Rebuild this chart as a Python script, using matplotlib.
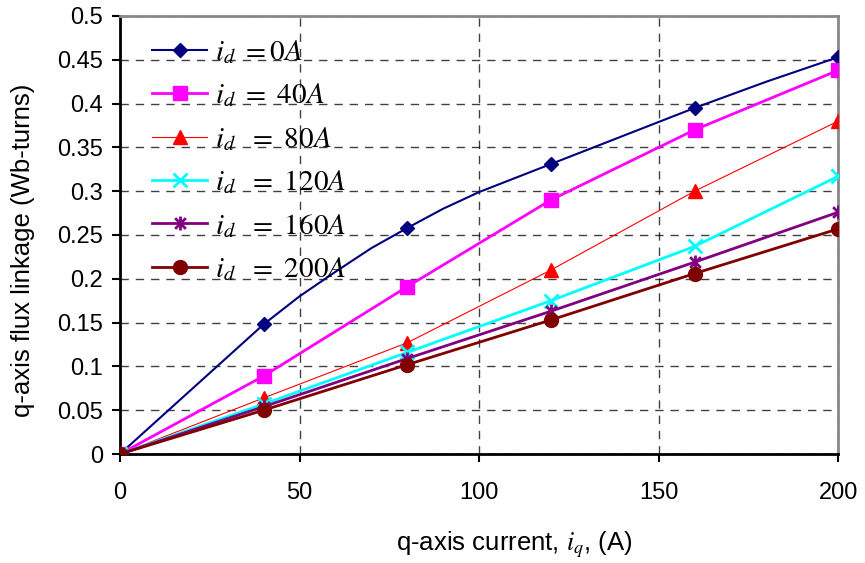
import matplotlib
matplotlib.use("Agg")
import matplotlib.pyplot as plt
from matplotlib.path import Path
import numpy as np

plt.rcParams['font.family'] = ['Liberation Sans', 'DejaVu Sans']
plt.rcParams['mathtext.fontset'] = 'stix'

iq_points = [0, 40, 80, 120, 160, 200]

# id = 0A curve has intermediate (unmarked) points
iq_id0 = [0, 40, 50, 60, 70, 80, 90, 100, 120, 160, 180, 200]
psi_id0 = [0, 0.148, 0.180, 0.208, 0.235, 0.258, 0.280, 0.299, 0.331, 0.395, 0.425, 0.453]
psi_id40 = [0, 0.089, 0.191, 0.290, 0.370, 0.438]
psi_id80 = [0, 0.064, 0.127, 0.210, 0.300, 0.380]
psi_id120 = [0, 0.057, 0.116, 0.175, 0.237, 0.317]
psi_id160 = [0, 0.054, 0.109, 0.163, 0.219, 0.276]
psi_id200 = [0, 0.050, 0.102, 0.153, 0.206, 0.257]

labels = [r'$i_d\ =\mathit{0A}$', r'$i_d\ =\ \mathit{40A}$', r'$i_d\ \ =\ \mathit{80A}$',
          r'$i_d\ \ =\ \mathit{120A}$', r'$i_d\ \ =\ \mathit{160A}$', r'$i_d\ \ =\ \mathit{200A}$']

x_ticks = [0, 50, 100, 150, 200]
y_ticks = [0, 0.05, 0.1, 0.15, 0.2, 0.25, 0.3, 0.35, 0.4, 0.45, 0.5]

# asterisk marker: x plus vertical line
ast = Path([(-1, -1), (1, 1), (-1, 1), (1, -1), (0, -1.3), (0, 1.3)],
           [Path.MOVETO, Path.LINETO, Path.MOVETO, Path.LINETO, Path.MOVETO, Path.LINETO])

fig = plt.figure(figsize=(8.65, 5.63), dpi=100)
ax = fig.add_axes([0.1387, 0.1936, 0.969 - 0.1387, 0.9716 - 0.1936])

mark_idx = [iq_id0.index(v) for v in iq_points]
ax.plot(iq_id0, psi_id0, color='#000080', lw=1.5, marker='D', ms=7.5,
        markevery=mark_idx, label=labels[0], zorder=5)
ax.plot(iq_points, psi_id40, color='#FF00FF', lw=2, marker='s', ms=10, label=labels[1], zorder=5)
ax.plot(iq_points, psi_id80, color='#FF0000', lw=0.8, marker='^', ms=10, label=labels[2], zorder=5)
ax.plot(iq_points, psi_id120, color='#00FFFF', lw=2, marker='x', ms=10, mew=2, label=labels[3], zorder=5)
ax.plot(iq_points, psi_id160, color='#800080', lw=2, marker=ast, ms=10, mew=2, label=labels[4], zorder=5)
ax.plot(iq_points, psi_id200, color='#800000', lw=2, marker='o', ms=10, label=labels[5], zorder=5)

ax.set_xlim(0, 200)
ax.set_ylim(0, 0.5)
ax.set_xticks(x_ticks)
ax.set_yticks(y_ticks)
ax.set_yticklabels(['%g' % v for v in y_ticks])
ax.tick_params(axis='both', labelsize=17, direction='out', length=6, width=1.5, color='black')
ax.tick_params(axis='x', pad=14)
ax.tick_params(axis='y', pad=6)

ax.grid(True, linestyle=(0, (6, 5)), color='black', lw=1, alpha=0.75)
ax.set_axisbelow(True)

for s in ['left', 'bottom']:
    ax.spines[s].set_color('black')
    ax.spines[s].set_linewidth(2)
for s in ['top', 'right']:
    ax.spines[s].set_color('#888888')
    ax.spines[s].set_linewidth(2)

ax.set_xlabel(r'q-axis current, $\mathit{i_q}$, (A)', fontsize=18.5)
ax.set_ylabel('q-axis flux linkage (Wb-turns)', fontsize=18.5)
ax.xaxis.set_label_coords(0.549, -0.172)
ax.yaxis.set_label_coords(-0.118, 0.466)

leg = ax.legend(loc='upper left', bbox_to_anchor=(0.02, 0.99), frameon=False,
                prop={'size': 21}, handlelength=1.9, handletextpad=0.25,
                labelspacing=0.53, borderaxespad=0.2)

fig.savefig('out.png', dpi=100)
